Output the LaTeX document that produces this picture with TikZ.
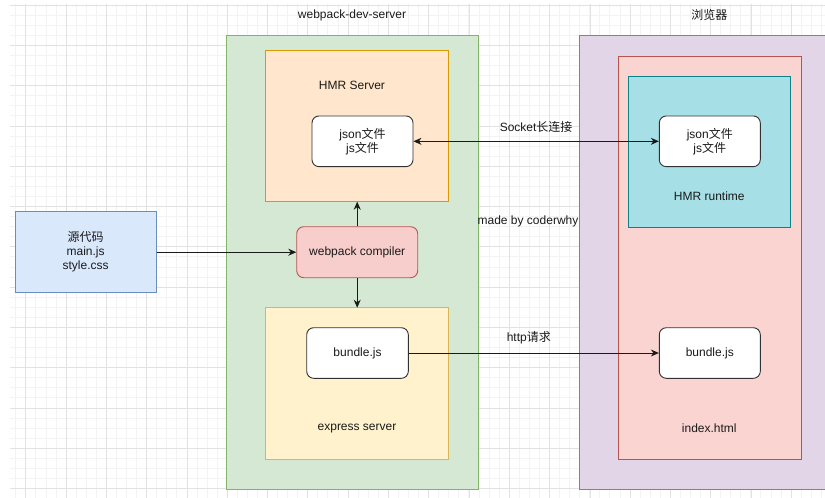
\documentclass[tikz,border=0pt]{standalone}
\usepackage{fontspec}
\setmainfont{Liberation Sans}
\newfontfamily\cjk{Noto Sans CJK SC}
\usetikzlibrary{arrows.meta}
\definecolor{txt}{HTML}{1A1A1A}
\definecolor{gridmin}{HTML}{F3F3F3}
\definecolor{gridmaj}{HTML}{E2E2E2}
\definecolor{greenF}{HTML}{D5E8D4}\definecolor{greenD}{HTML}{82B366}
\definecolor{orangeF}{HTML}{FFE6CC}\definecolor{orangeD}{HTML}{D79B00}
\definecolor{yellowF}{HTML}{FFF2CC}\definecolor{yellowD}{HTML}{D6B656}
\definecolor{redF}{HTML}{F8CECC}\definecolor{redD}{HTML}{B85450}
\definecolor{blueF}{HTML}{DAE8FC}\definecolor{blueD}{HTML}{6C8EBF}
\definecolor{purpleF}{HTML}{E1D5E7}\definecolor{purpleD}{HTML}{9673A6}
\definecolor{tealF}{HTML}{A6DFE5}\definecolor{tealD}{HTML}{0E8088}
\definecolor{pinkF}{HTML}{FAD4D1}\definecolor{pinkD}{HTML}{B85450}
\newcommand{\zh}[1]{{\cjk #1}}
\begin{document}
\begin{tikzpicture}[x=1pt,y=-1pt,
  every node/.style={text=txt,font=\fontsize{12}{14}\selectfont,inner sep=0pt},
  area/.style={draw,line width=1pt},
  wbox/.style={draw=txt!90,fill=white,rounded corners=7pt,line width=0.9pt},
  conn/.style={line width=0.9pt,draw=txt,-{Stealth[length=8pt,width=7pt]}},
  lbl/.style={align=center}]
\useasboundingbox (0,0) rectangle (825,498);
\fill[white] (0,0) rectangle (825,498);
% grid
\begin{scope}
\clip (10,4) rectangle (825,498);
\foreach \i in {0,...,85} \draw[gridmin,line width=0.6pt] ({-14.6+10.07*\i},0) -- ++(0,498);
\foreach \i in {0,...,50} \draw[gridmin,line width=0.6pt] (0,{5+10.07*\i}) -- ++(825,0);
\foreach \i in {0,...,21} \draw[gridmaj,line width=0.8pt] ({25.7+40.3*\i},0) -- ++(0,498);
\foreach \i in {0,...,12} \draw[gridmaj,line width=0.8pt] (0,{5+40.3*\i}) -- ++(825,0);
\end{scope}
% containers
\draw[area,fill=greenF,draw=greenD] (226,35.7) rectangle (478.7,489);
\draw[area,fill=purpleF,draw=purpleD] (579,35.7) rectangle (827,489);
\draw[area,fill=pinkF,draw=pinkD] (618.3,56) rectangle (801,459);
\draw[area,fill=tealF,draw=tealD] (628.7,76) rectangle (790.7,227.7);
\draw[area,fill=orangeF,draw=orangeD] (265.7,50.7) rectangle (448.7,201.7);
\draw[area,fill=yellowF,draw=yellowD] (265.7,307.7) rectangle (448.7,459);
% titles
\node (tdev) at (352,15) {webpack-dev-server};
\node (tbrowser) at (709.3,15) {\zh{浏览器}};
\node (thmrs) at (352,85.7) {HMR Server};
\node (texp) at (357,428.3) {express server};
\node (thmrr) at (709.3,196) {HMR runtime};
\node (tidx) at (709.3,428.3) {index.html};
\node (tmade) at (528,221.7) {made by coderwhy};
% nodes
\node[wbox,minimum width=101pt,minimum height=50.7pt,lbl] (jsonL) at (362.5,141.3) {json\zh{文件}\\js\zh{文件}};
\node[wbox,minimum width=101pt,minimum height=50.7pt,lbl] (jsonR) at (709.8,141.3) {json\zh{文件}\\js\zh{文件}};
\node[draw=redD,fill=redF,line width=0.9pt,rounded corners=7pt,minimum width=121pt,minimum height=51pt] (comp) at (357.2,252.2) {webpack compiler};
\node[wbox,minimum width=101.6pt,minimum height=50.6pt] (bundleL) at (357.5,353) {bundle.js};
\node[wbox,minimum width=101pt,minimum height=50.6pt] (bundleR) at (709.8,353) {bundle.js};
\node[draw=blueD,fill=blueF,line width=0.9pt,minimum width=141.3pt,minimum height=81pt,lbl] (src) at (85.6,252.2) {\zh{源代码}\\main.js\\style.css};
% connectors
\draw[conn] (src.east) -- (comp.west);
\draw[conn] (comp.north) -- (357.2,201.7) coordinate (hmrbot);
\draw[conn] (comp.south) -- (357.2,307.7) coordinate (exptop);
\draw[conn,{Stealth[length=8pt,width=7pt]}-{Stealth[length=8pt,width=7pt]}] (jsonL.east) -- node[above=8pt] (lsock) {Socket\zh{长连接}} (jsonR.west);
\draw[conn] (bundleL.east) -- node[above=9pt,pos=0.48] (lhttp) {http\zh{请求}} (bundleR.west);
\end{tikzpicture}
\end{document}
